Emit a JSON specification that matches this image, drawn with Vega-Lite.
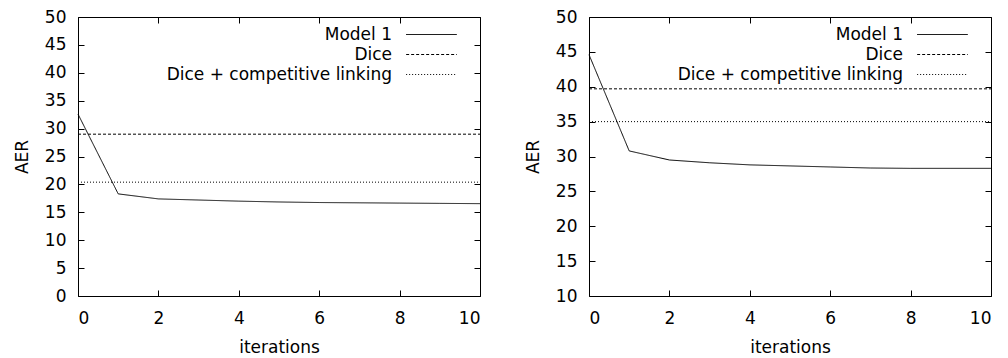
{
  "$schema": "https://vega.github.io/schema/vega-lite/v6.json",
  "background": "white",
  "padding": {"top": 7, "left": 12, "right": 2, "bottom": 5},
  "config": {
    "font": "DejaVu Sans",
    "view": {"stroke": "black", "strokeWidth": 1},
    "axis": {
      "grid": false,
      "domain": false,
      "tickColor": "black",
      "tickSize": -6,
      "tickWidth": 1,
      "labelFontSize": 17,
      "labelColor": "black",
      "labelFont": "DejaVu Sans",
      "titleFont": "DejaVu Sans",
      "titleFontSize": 17,
      "titleFontWeight": "normal",
      "titleColor": "black"
    },
    "legend": {
      "orient": "none",
      "legendX": 345,
      "legendY": 9,
      "padding": 0,
      "title": null,
      "symbolType": "M-3.9,0H3.9",
      "symbolSize": 169,
      "symbolStrokeColor": "black",
      "symbolStrokeWidth": 1,
      "labelFontSize": 17,
      "labelColor": "black",
      "labelFont": "DejaVu Sans",
      "labelAlign": "right",
      "labelOffset": -48,
      "labelLimit": 400,
      "rowPadding": 2
    }
  },
  "datasets": {
    "left": [
      {"series": "Model 1", "iterations": 0, "AER": 32.6},
      {"series": "Model 1", "iterations": 1, "AER": 18.3},
      {"series": "Model 1", "iterations": 2, "AER": 17.4},
      {"series": "Model 1", "iterations": 3, "AER": 17.2},
      {"series": "Model 1", "iterations": 4, "AER": 17.0},
      {"series": "Model 1", "iterations": 5, "AER": 16.85},
      {"series": "Model 1", "iterations": 6, "AER": 16.75},
      {"series": "Model 1", "iterations": 7, "AER": 16.7},
      {"series": "Model 1", "iterations": 8, "AER": 16.65},
      {"series": "Model 1", "iterations": 9, "AER": 16.6},
      {"series": "Model 1", "iterations": 10, "AER": 16.55},
      {"series": "Dice", "iterations": 0, "AER": 29.0},
      {"series": "Dice", "iterations": 10, "AER": 29.0},
      {"series": "Dice + competitive linking", "iterations": 0, "AER": 20.4},
      {"series": "Dice + competitive linking", "iterations": 10, "AER": 20.4}
    ],
    "right": [
      {"series": "Model 1", "iterations": 0, "AER": 44.6},
      {"series": "Model 1", "iterations": 1, "AER": 30.8},
      {"series": "Model 1", "iterations": 2, "AER": 29.5},
      {"series": "Model 1", "iterations": 3, "AER": 29.1},
      {"series": "Model 1", "iterations": 4, "AER": 28.8},
      {"series": "Model 1", "iterations": 5, "AER": 28.65},
      {"series": "Model 1", "iterations": 6, "AER": 28.5},
      {"series": "Model 1", "iterations": 7, "AER": 28.35},
      {"series": "Model 1", "iterations": 8, "AER": 28.3},
      {"series": "Model 1", "iterations": 9, "AER": 28.3},
      {"series": "Model 1", "iterations": 10, "AER": 28.3},
      {"series": "Dice", "iterations": 0, "AER": 39.7},
      {"series": "Dice", "iterations": 10, "AER": 39.7},
      {"series": "Dice + competitive linking", "iterations": 0, "AER": 35.0},
      {"series": "Dice + competitive linking", "iterations": 10, "AER": 35.0}
    ]
  },
  "spacing": 40,
  "hconcat": [
    {
      "width": 402,
      "height": 279,
      "data": {"name": "left"},
      "resolve": {"axis": {"x": "independent", "y": "independent"}},
      "layer": [
        {
          "mark": {"type": "line", "color": "black", "strokeWidth": 1},
          "encoding": {
            "x": {"field": "iterations", "type": "quantitative", "scale": {"domain": [0, 10], "nice": false}, "axis": {"values": [0, 2, 4, 6, 8, 10], "title": "iterations", "labelPadding": 20, "titlePadding": 13}},
            "y": {"field": "AER", "type": "quantitative", "scale": {"domain": [0, 50], "nice": false, "zero": false}, "axis": {"values": [0, 5, 10, 15, 20, 25, 30, 35, 40, 45, 50], "title": "AER", "labelPadding": 18, "titlePadding": 13}},
            "strokeDash": {"field": "series", "type": "nominal", "scale": {"domain": ["Model 1", "Dice", "Dice + competitive linking"], "range": [[1, 0], [3, 2], [1, 2]]}},
            "detail": {"field": "series"}
          }
        },
        {
          "mark": {"type": "line", "strokeOpacity": 0},
          "encoding": {
            "x": {"field": "iterations", "type": "quantitative", "axis": {"orient": "top", "values": [0, 2, 4, 6, 8, 10], "labels": false, "title": null}},
            "y": {"field": "AER", "type": "quantitative", "axis": {"orient": "right", "values": [0, 5, 10, 15, 20, 25, 30, 35, 40, 45, 50], "labels": false, "title": null}},
            "detail": {"field": "series"}
          }
        }
      ]
    },
    {
      "width": 402,
      "height": 279,
      "data": {"name": "right"},
      "resolve": {"axis": {"x": "independent", "y": "independent"}},
      "layer": [
        {
          "mark": {"type": "line", "color": "black", "strokeWidth": 1},
          "encoding": {
            "x": {"field": "iterations", "type": "quantitative", "scale": {"domain": [0, 10], "nice": false}, "axis": {"values": [0, 2, 4, 6, 8, 10], "title": "iterations", "labelPadding": 20, "titlePadding": 13}},
            "y": {"field": "AER", "type": "quantitative", "scale": {"domain": [10, 50], "nice": false, "zero": false}, "axis": {"values": [10, 15, 20, 25, 30, 35, 40, 45, 50], "title": "AER", "labelPadding": 18, "titlePadding": 13}},
            "strokeDash": {"field": "series", "type": "nominal", "scale": {"domain": ["Model 1", "Dice", "Dice + competitive linking"], "range": [[1, 0], [3, 2], [1, 2]]}},
            "detail": {"field": "series"}
          }
        },
        {
          "mark": {"type": "line", "strokeOpacity": 0},
          "encoding": {
            "x": {"field": "iterations", "type": "quantitative", "axis": {"orient": "top", "values": [0, 2, 4, 6, 8, 10], "labels": false, "title": null}},
            "y": {"field": "AER", "type": "quantitative", "axis": {"orient": "right", "values": [10, 15, 20, 25, 30, 35, 40, 45, 50], "labels": false, "title": null}},
            "detail": {"field": "series"}
          }
        }
      ]
    }
  ],
  "resolve": {"scale": {"strokeDash": "independent"}}
}
